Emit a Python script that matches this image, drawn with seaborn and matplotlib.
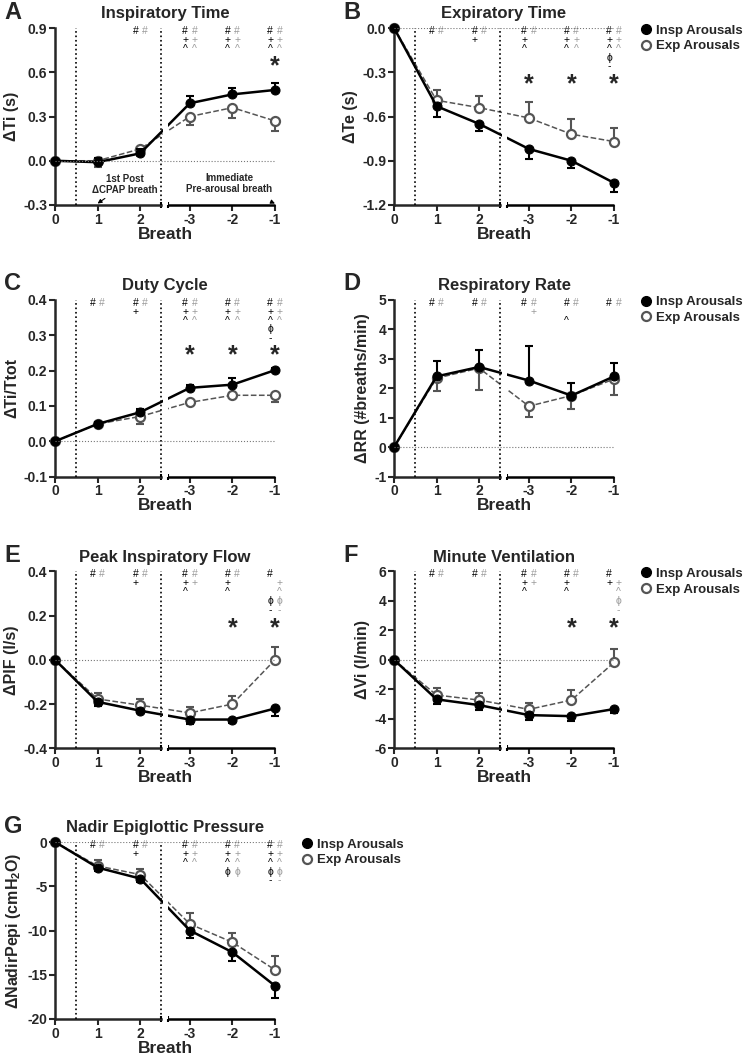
import numpy as np
import matplotlib
matplotlib.use('Agg')
import matplotlib.pyplot as plt
import seaborn as sns
from matplotlib.lines import Line2D

sns.set_style('ticks')
plt.rcParams['font.family'] = ['Liberation Sans', 'DejaVu Sans']
plt.rcParams['font.weight'] = 'bold'
plt.rcParams['axes.labelweight'] = 'bold'
plt.rcParams['axes.titleweight'] = 'bold'
plt.rcParams['mathtext.fontset'] = 'custom'
plt.rcParams['mathtext.rm'] = 'Liberation Sans:bold'
plt.rcParams['mathtext.bf'] = 'Liberation Sans:bold'
plt.rcParams['mathtext.default'] = 'rm'

# Breath labels (0 = last CPAP breath, 1-2 post drop, -3..-1 pre-arousal)
breaths = ['0', '1', '2', '-3', '-2', '-1']
xpos = [0, 1, 2, 3.17, 4.17, 5.17]

# A - inspiratory time
ti_insp = [0, -0.01, 0.05, 0.39, 0.45, 0.48]
ti_insp_err = [0, 0.03, 0.03, 0.05, 0.04, 0.05]
ti_exp = [0, 0.0, 0.08, 0.30, 0.36, 0.27]
ti_exp_err = [0, 0.04, 0.05, 0.06, 0.07, 0.07]

# B - expiratory time
te_insp = [0, -0.53, -0.65, -0.82, -0.90, -1.05]
te_insp_err = [0, 0.07, 0.05, 0.07, 0.05, 0.06]
te_exp = [0, -0.49, -0.54, -0.61, -0.72, -0.77]
te_exp_err = [0, 0.07, 0.08, 0.11, 0.10, 0.09]

# C - duty cycle
dc_insp = [0, 0.049, 0.082, 0.151, 0.16, 0.201]
dc_insp_err = [0, 0.005, 0.01, 0.008, 0.02, 0.007]
dc_exp = [0, 0.049, 0.07, 0.11, 0.13, 0.13]
dc_exp_err = [0, 0.005, 0.02, 0.006, 0.005, 0.02]

# D - respiratory rate
rr_insp = [0, 2.40, 2.72, 2.26, 1.75, 2.40]
rr_insp_err = [0, 0.53, 0.57, 1.16, 0.44, 0.46]
rr_exp = [0, 2.34, 2.68, 1.39, 1.75, 2.31]
rr_exp_err = [0, 0.42, 0.74, 0.36, 0.45, 0.54]

# E - peak inspiratory flow
pif_insp = [0, -0.19, -0.23, -0.27, -0.27, -0.22]
pif_insp_err = [0, 0.02, 0.01, 0.018, 0.015, 0.033]
pif_exp = [0, -0.177, -0.205, -0.24, -0.20, 0.0]
pif_exp_err = [0, 0.026, 0.026, 0.027, 0.038, 0.06]

# F - minute ventilation
ve_insp = [0, -2.68, -3.07, -3.75, -3.82, -3.34]
ve_insp_err = [0, 0.3, 0.3, 0.34, 0.35, 0.3]
ve_exp = [0, -2.39, -2.73, -3.36, -2.73, -0.18]
ve_exp_err = [0, 0.5, 0.45, 0.45, 0.68, 0.93]

# G - nadir epiglottic pressure
pepi_insp = [0, -2.89, -4.13, -10.0, -12.46, -16.25]
pepi_insp_err = [0, 0.4, 0.4, 0.8, 0.95, 1.4]
pepi_exp = [0, -2.70, -3.68, -9.27, -11.33, -14.45]
pepi_exp_err = [0, 0.64, 0.68, 1.2, 1.1, 1.58]

# significance marks per breath: each row "xy" -> x black (insp), y grey (exp)
sig_A = [[], [], ['##'], ['##', '++', '^^'], ['##', '++', '^^'], ['##', '++', '^^']]
sig_B = [[], ['##'], ['##', '+ '], ['##', '+ ', '^ '], ['##', '++', '^^'],
         ['##', '++', '^^', 'ϕ ', '- ']]
sig_C = [[], ['##'], ['##', '+ '], ['##', '++', '^^'], ['##', '++', '^^'],
         ['##', '++', '^^', 'ϕ ', '- ']]
sig_D = [[], ['##'], ['##'], ['##', ' +'], ['##', '  ', '^ '], ['##']]
sig_E = [[], ['##'], ['##', '+ '], ['##', '++', '^ '], ['##', '+ ', '^ '],
         ['# ', ' +', ' ^', 'ϕϕ', '--']]
sig_F = [[], ['##'], ['##'], ['##', '++', '^ '], ['##', '+ ', '^ '],
         ['# ', '++', ' ^', ' ϕ', ' -']]
sig_G = [[], ['##'], ['##', '+ '], ['##', '++', '^^'], ['##', '++', '^^', 'ϕϕ'],
         ['##', '++', '^^', 'ϕϕ', '--']]

# insp vs exp difference (*)
star_A = ['-1']
star_B = ['-3', '-2', '-1']
star_C = ['-3', '-2', '-1']
star_E = ['-2', '-1']
star_F = ['-2', '-1']

EXP_C = '#555555'
SIG_GREY = '#9a9a9a'

fig = plt.figure(figsize=(7.5, 10.57), dpi=100)


def panel(rect, letter, title, ylabel, insp, insp_err, exp, exp_err, insp_up,
          ylim, yticks, fmt, sig, stars, star_y, legend=False, notes=False):
    ax = fig.add_axes(rect)
    zeros = np.zeros(len(xpos))
    ie = [zeros, insp_err] if insp_up else [insp_err, zeros]
    ee = [exp_err, zeros] if insp_up else [zeros, exp_err]

    ax.errorbar(xpos, exp, yerr=ee, fmt='none', ecolor=EXP_C, elinewidth=1.5,
                capsize=3, capthick=1.5, clip_on=False, zorder=2)
    sns.lineplot(x=xpos, y=exp, ax=ax, color=EXP_C, linestyle='--', lw=1.1,
                 marker='o', markersize=6.5, markerfacecolor='white',
                 markeredgecolor=EXP_C, markeredgewidth=1.6, clip_on=False, zorder=2)
    ax.errorbar(xpos, insp, yerr=ie, fmt='none', ecolor='black', elinewidth=1.5,
                capsize=3, capthick=1.5, clip_on=False, zorder=3)
    sns.lineplot(x=xpos, y=insp, ax=ax, color='black', lw=1.8, marker='o',
                 markersize=6.5, markeredgecolor='black', clip_on=False, zorder=3)

    # axis break
    ax.axvspan(2.53, 2.645, color='white', zorder=3.5, lw=0)
    ax.axvline(0.5, ls=':', color='black', lw=1.2, zorder=4)
    ax.axvline(2.5, ls=':', color='black', lw=1.2, zorder=4)
    ax.axhline(0, ls=':', color='#777777', lw=0.8, zorder=4)

    ax.set_xlim(0, xpos[-1])
    ax.set_ylim(*ylim)
    ax.set_yticks(yticks)
    ax.set_yticklabels([fmt.format(v) for v in yticks])
    ax.set_xticks(xpos)
    ax.set_xticklabels(breaths)
    sns.despine(ax=ax)
    for s in ['left', 'bottom']:
        ax.spines[s].set_linewidth(1.8)
    ax.spines['bottom'].set_bounds(0, 2.5)
    trans = ax.get_xaxis_transform()
    ax.plot([2.645, xpos[-1]], [0, 0], color='black', lw=1.8, transform=trans,
            clip_on=False, solid_capstyle='butt')
    ax.plot([2.5, 2.645], [0, 0], ls='none', marker='|', ms=5, mew=1.5,
            color='black', transform=trans, clip_on=False)
    ax.tick_params(width=1.5, length=4, labelsize=10, pad=1.5)
    for lab in ax.get_xticklabels() + ax.get_yticklabels():
        lab.set_fontweight('bold')

    ax.set_xlabel('Breath', fontsize=12.5, labelpad=0)
    ax.set_ylabel(ylabel, fontsize=11.5, labelpad=3)
    ax.set_title(title, fontsize=12, pad=7)

    # significance symbols
    for x, rows in zip(xpos, sig):
        for r, pair in enumerate(rows):
            yy = 0.982 - r * 0.05
            if pair[0] != ' ':
                ax.text(x - 0.11, yy, pair[0], transform=trans, ha='center',
                        va='center', fontsize=7.5, fontweight='normal', color='black')
            if pair[1] != ' ':
                ax.text(x + 0.11, yy, pair[1], transform=trans, ha='center',
                        va='center', fontsize=7.5, fontweight='normal', color=SIG_GREY)
    for b in stars:
        ax.text(xpos[breaths.index(b)], star_y, '*', ha='center', va='center',
                fontsize=18, fontweight='bold')

    if notes:
        ax.annotate('1st Post\nΔCPAP breath', xy=(1, ylim[0] + 0.01),
                    xytext=(1.65, -0.16), ha='center', va='center', fontsize=7,
                    arrowprops=dict(arrowstyle='-|>', color='black', lw=0.8,
                                    mutation_scale=6, shrinkA=9, shrinkB=0))
        ax.annotate('Immediate\nPre-arousal breath', xy=(xpos[-1], ylim[0] + 0.01),
                    xytext=(4.1, -0.155), ha='center', va='center', fontsize=7,
                    arrowprops=dict(arrowstyle='-|>', color='black', lw=0.8,
                                    mutation_scale=6, shrinkA=9, shrinkB=0))

    if legend:
        handles = [Line2D([], [], color='black', marker='o', ls='none', ms=7),
                   Line2D([], [], color=EXP_C, marker='o', ls='none', ms=6.5,
                          mfc='white', mew=1.6)]
        ax.legend(handles, ['Insp Arousals', 'Exp Arousals'], loc='upper left',
                  bbox_to_anchor=(1.12, 1.02), frameon=False, handlelength=0.9,
                  handletextpad=0.3, borderpad=0, borderaxespad=0,
                  labelspacing=0.25, prop={'size': 9.5, 'weight': 'bold'})

    fig.text(rect[0] - 0.068, rect[1] + rect[3] + 0.015, letter, fontsize=17,
             fontweight='bold', va='center', ha='left')
    return ax


W, H = 220 / 750, 177 / 1057
L1, L2 = 55 / 750, 394 / 750
R1, R2, R3, R4 = 1 - 205 / 1057, 1 - 476.7 / 1057, 1 - 748.3 / 1057, 1 - 1019 / 1057

panel([L1, R1, W, H], 'A', 'Inspiratory Time', 'ΔTi (s)', ti_insp, ti_insp_err,
      ti_exp, ti_exp_err, True, (-0.3, 0.9), [-0.3, 0.0, 0.3, 0.6, 0.9], '{:.1f}',
      sig_A, star_A, 0.64, notes=True)
panel([L2, R1, W, H], 'B', 'Expiratory Time', 'ΔTe (s)', te_insp, te_insp_err,
      te_exp, te_exp_err, False, (-1.2, 0.0), [-1.2, -0.9, -0.6, -0.3, 0.0], '{:.1f}',
      sig_B, star_B, -0.38, legend=True)
panel([L1, R2, W, H], 'C', 'Duty Cycle', 'ΔTi/Ttot', dc_insp, dc_insp_err,
      dc_exp, dc_exp_err, True, (-0.1, 0.4), [-0.1, 0.0, 0.1, 0.2, 0.3, 0.4], '{:.1f}',
      sig_C, star_C, 0.243)
panel([L2, R2, W, H], 'D', 'Respiratory Rate', 'ΔRR (#breaths/min)', rr_insp, rr_insp_err,
      rr_exp, rr_exp_err, True, (-1, 5), [-1, 0, 1, 2, 3, 4, 5], '{:d}',
      sig_D, [], 0, legend=True)
panel([L1, R3, W, H], 'E', 'Peak Inspiratory Flow', 'ΔPIF (l/s)', pif_insp, pif_insp_err,
      pif_exp, pif_exp_err, False, (-0.4, 0.4), [-0.4, -0.2, 0.0, 0.2, 0.4], '{:.1f}',
      sig_E, star_E, 0.141)
panel([L2, R3, W, H], 'F', 'Minute Ventilation', 'ΔVi (l/min)', ve_insp, ve_insp_err,
      ve_exp, ve_exp_err, False, (-6, 6), [-6, -4, -2, 0, 2, 4, 6], '{:d}',
      sig_F, star_F, 2.14, legend=True)
panel([L1, R4, W, H], 'G', 'Nadir Epiglottic Pressure', 'ΔNadirPepi (cmH$_2$O)',
      pepi_insp, pepi_insp_err, pepi_exp, pepi_exp_err, False, (-20, 0),
      [-20, -15, -10, -5, 0], '{:d}', sig_G, [], 0, legend=True)

fig.savefig('out.png', dpi=100)
